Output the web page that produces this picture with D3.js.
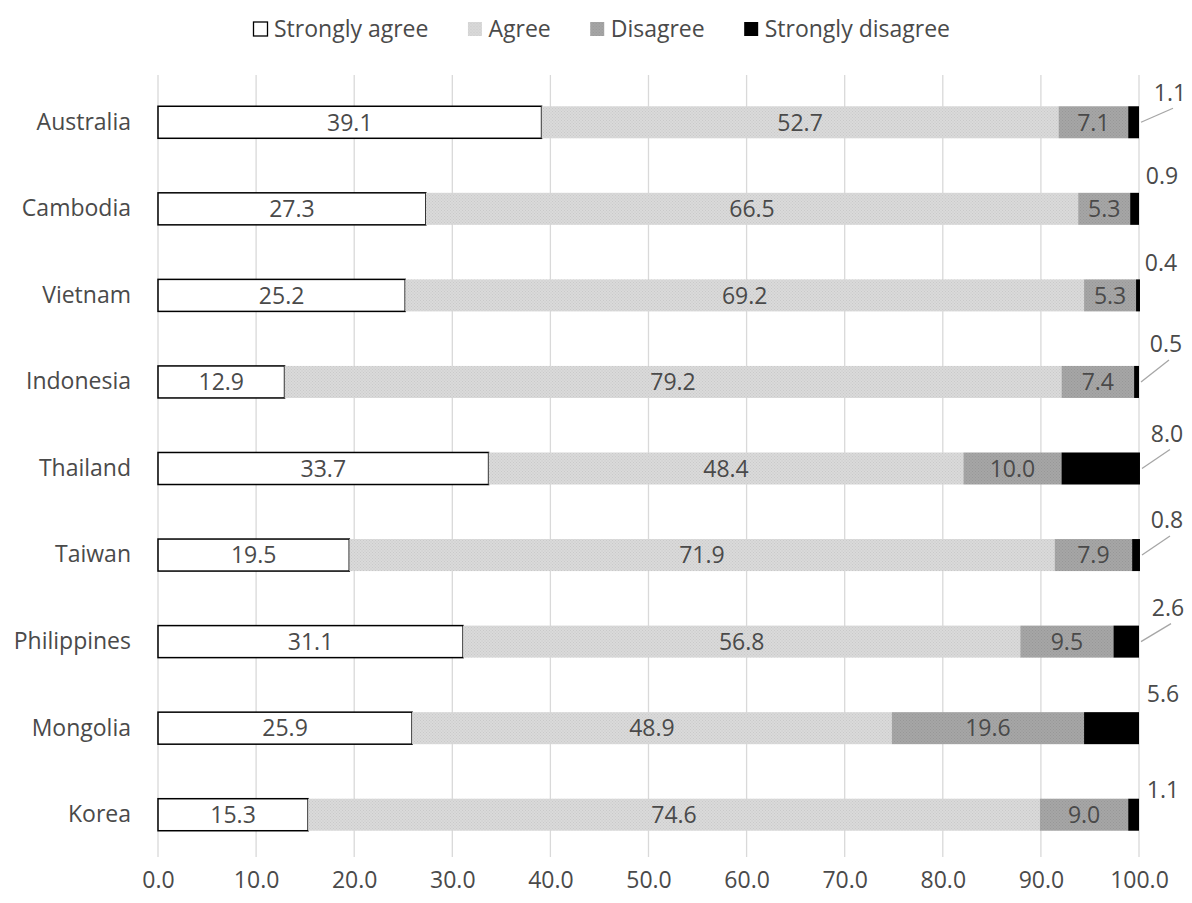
<!DOCTYPE html>
<html>
<head>
<meta charset="utf-8">
<script src="https://cdn.jsdelivr.net/npm/d3@7"></script>
<style>
  html, body { margin: 0; padding: 0; background: #fff; }
  svg text { font-family: "Open Sans", "Lato", sans-serif; fill: #4a4a4a; }
</style>
</head>
<body>
<svg id="chart" width="1192" height="903"></svg>
<script>
// Survey responses (%) by country
const countries = ["Australia", "Cambodia", "Vietnam", "Indonesia", "Thailand", "Taiwan", "Philippines", "Mongolia", "Korea"];
const seriesNames = ["Strongly agree", "Agree", "Disagree", "Strongly disagree"];
const stronglyAgree    = [39.1, 27.3, 25.2, 12.9, 33.7, 19.5, 31.1, 25.9, 15.3];
const agree            = [52.7, 66.5, 69.2, 79.2, 48.4, 71.9, 56.8, 48.9, 74.6];
const disagree         = [7.1, 5.3, 5.3, 7.4, 10.0, 7.9, 9.5, 19.6, 9.0];
const stronglyDisagree = [1.1, 0.9, 0.4, 0.5, 8.0, 0.8, 2.6, 5.6, 1.1];
const xTicks = [0, 10, 20, 30, 40, 50, 60, 70, 80, 90, 100];

// Outside-label placement for the "Strongly disagree" values (pixel offsets from bar end)
const outsideLabelOffset = [
  {dx: 31, dy: -30, leader: true},
  {dx: 23, dy: -33, leader: false},
  {dx: 21, dy: -33, leader: false},
  {dx: 27, dy: -38, leader: true},
  {dx: 27, dy: -35, leader: true},
  {dx: 27, dy: -35, leader: true},
  {dx: 29, dy: -34, leader: true},
  {dx: 24, dy: -34, leader: false},
  {dx: 24, dy: -25, leader: false}
];

const FONT = 23;
const values = [stronglyAgree, agree, disagree, stronglyDisagree];
const rows = countries.map((c, i) => {
  const r = {country: c};
  seriesNames.forEach((s, k) => r[s] = values[k][i]);
  return r;
});

const svg = d3.select("#chart");
const margin = {left: 158, right: 53, top: 79, bottom: 45};
const W = 1192, H = 903;

const x = d3.scaleLinear().domain([0, 100]).range([margin.left, W - margin.right]);
const y = d3.scaleBand().domain(countries).range([margin.top, H - margin.bottom]).paddingInner(0.63).paddingOuter(0.315);

// Dotted textures for the grey series
const defs = svg.append("defs");
function dotPattern(id, base, dot) {
  const p = defs.append("pattern").attr("id", id).attr("width", 3).attr("height", 3)
    .attr("patternUnits", "userSpaceOnUse");
  p.append("rect").attr("width", 3).attr("height", 3).attr("fill", base);
  p.append("rect").attr("x", 0).attr("y", 0).attr("width", 1).attr("height", 1).attr("fill", dot);
  p.append("rect").attr("x", 1.5).attr("y", 1.5).attr("width", 1).attr("height", 1).attr("fill", dot);
}
dotPattern("pAgree", "#dadada", "#c9c9c9");
dotPattern("pDisagree", "#a6a6a6", "#979797");

const fills = {
  "Strongly agree": "#ffffff",
  "Agree": "url(#pAgree)",
  "Disagree": "url(#pDisagree)",
  "Strongly disagree": "#000000"
};

// Vertical gridlines
const gridTop = 75, gridBottom = 857;
svg.append("g").selectAll("line").data(xTicks).join("line")
  .attr("x1", d => x(d)).attr("x2", d => x(d))
  .attr("y1", gridTop).attr("y2", gridBottom)
  .attr("stroke", "#d9d9d9").attr("stroke-width", 1.3);

// X axis tick labels
const xAxis = d3.axisBottom(x).tickValues(xTicks).tickFormat(d3.format(".1f")).tickSize(0).tickPadding(0);
const gx = svg.append("g").attr("transform", `translate(0, ${gridBottom + 15})`).call(xAxis);
gx.select(".domain").remove();
gx.selectAll("text").attr("font-size", FONT).attr("font-family", "'Open Sans', Lato, sans-serif").attr("fill", "#4a4a4a").attr("dy", "0.71em");

// Y axis category labels
const yAxis = d3.axisLeft(y).tickSize(0).tickPadding(27);
const gy = svg.append("g").attr("transform", `translate(${margin.left}, 0)`).call(yAxis);
gy.select(".domain").remove();
gy.selectAll("text").attr("font-size", FONT).attr("font-family", "'Open Sans', Lato, sans-serif").attr("fill", "#4a4a4a");

// Stacked bars
const stack = d3.stack().keys(seriesNames)(rows);
const layers = svg.append("g").selectAll("g").data(stack).join("g");
layers.selectAll("rect").data(d => d.map(v => ({key: d.key, v}))).join("rect")
  .attr("x", d => x(d.v[0]))
  .attr("y", d => y(d.v.data.country))
  .attr("width", d => x(d.v[1]) - x(d.v[0]))
  .attr("height", y.bandwidth())
  .attr("fill", d => fills[d.key])
  .attr("stroke", d => d.key === "Strongly agree" ? "#000" : "none")
  .attr("stroke-width", 1.5);

// Inside value labels (first three series)
const inside = stack.slice(0, 3);
svg.append("g").selectAll("g").data(inside).join("g")
  .selectAll("text").data(d => d).join("text")
  .attr("x", d => (x(d[0]) + x(d[1])) / 2)
  .attr("y", d => y(d.data.country) + y.bandwidth() / 2)
  .attr("dy", "0.36em")
  .attr("text-anchor", "middle")
  .attr("font-size", FONT)
  .text(d => d3.format(".1f")(d[1] - d[0]));

// Outside labels for "Strongly disagree"
const last = stack[3];
const outG = svg.append("g");
last.forEach((d, i) => {
  const off = outsideLabelOffset[i];
  const bx = x(d[1]);
  const by = y(d.data.country) + y.bandwidth() / 2;
  const lx = bx + off.dx, ly = by + off.dy;
  if (off.leader) {
    outG.append("line")
      .attr("x1", bx + 2).attr("y1", by)
      .attr("x2", lx + 3).attr("y2", ly + 16)
      .attr("stroke", "#a6a6a6").attr("stroke-width", 1.3);
  }
  outG.append("text")
    .attr("x", lx).attr("y", ly)
    .attr("dy", "0.36em")
    .attr("text-anchor", "middle")
    .attr("font-size", FONT)
    .text(d3.format(".1f")(stronglyDisagree[i]));
});

// Legend: swatch + label, items laid out left to right
const legend = svg.append("g").attr("transform", "translate(253, 29)");
let cursor = 0;
seriesNames.forEach((s, k) => {
  const g = legend.append("g").attr("transform", `translate(${cursor}, 0)`);
  g.append("rect").attr("x", 0.5).attr("y", -7).attr("width", 14).attr("height", 14)
    .attr("fill", fills[s])
    .attr("stroke", s === "Strongly agree" ? "#000" : "none")
    .attr("stroke-width", 1.3);
  const t = g.append("text").attr("x", 21).attr("y", 0).attr("dy", "0.36em")
    .attr("font-size", FONT).text(s);
  cursor += 21 + t.node().getComputedTextLength() + 39;
});
</script>
</body>
</html>
